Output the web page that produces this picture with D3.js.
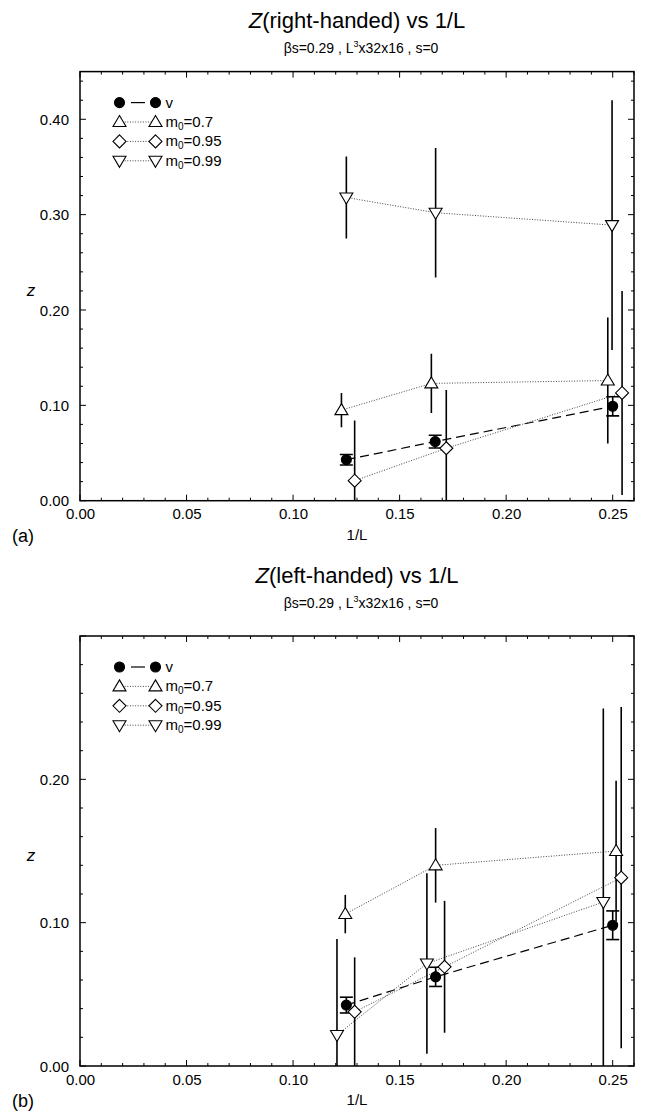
<!DOCTYPE html>
<html>
<head>
<meta charset="utf-8">
<script src="https://cdn.jsdelivr.net/npm/d3@7"></script>
<style>
  html, body { margin: 0; padding: 0; background: #fff; }
  svg { display: block; }
  text { font-family: "Liberation Sans", Arial, Helvetica, sans-serif; fill: #000; }
</style>
</head>
<body>
<svg id="chart" width="651" height="1115"></svg>
<script>
// ---- data: panel (a), right-handed ----
const vX_a    = [0.125, 0.1667, 0.25];
const vY_a    = [0.043, 0.062, 0.099];
const vErr_a  = [0.0055, 0.0067, 0.010];
const m07X_a  = [0.1227, 0.1649, 0.2477];
const m07Y_a  = [0.095, 0.123, 0.126];
const m07Err_a = [0.018, 0.031, 0.066];
const m095X_a = [0.1289, 0.1719, 0.2544];
const m095Y_a = [0.021, 0.055, 0.113];
const m095Err_a = [0.063, 0.061, 0.107];
const m099X_a = [0.125, 0.1669, 0.2497];
const m099Y_a = [0.318, 0.302, 0.289];
const m099Err_a = [0.043, 0.068, 0.131];

// ---- data: panel (b), left-handed ----
const vX_b    = [0.125, 0.1669, 0.25];
const vY_b    = [0.0425, 0.0622, 0.0982];
const vErr_b  = [0.0055, 0.0067, 0.010];
const m07X_b  = [0.1245, 0.1669, 0.2516];
const m07Y_b  = [0.106, 0.140, 0.150];
const m07Err_b = [0.0134, 0.026, 0.049];
const m095X_b = [0.1289, 0.1711, 0.254];
const m095Y_b = [0.0378, 0.0692, 0.1314];
const m095Err_b = [0.038, 0.046, 0.119];
const m099X_b = [0.1206, 0.1628, 0.2456];
const m099Y_b = [0.0216, 0.0715, 0.1144];
const m099Err_b = [0.067, 0.063, 0.135];

// ---- axes ----
const xDomain = [0, 0.26];
const xTickLabels = [0.00, 0.05, 0.10, 0.15, 0.20, 0.25];
const yDomain_a = [0, 0.45];
const yTickLabels_a = [0.00, 0.10, 0.20, 0.30, 0.40];
const yDomain_b = [0, 0.30];
const yTickLabels_b = [0.00, 0.10, 0.20];

const seriesNames = ["v", "m0=0.7", "m0=0.95", "m0=0.99"];

const svg = d3.select("#chart");

const seriesStyle = {
  "v":       { symbol: "circle",   dash: "9,5",  fill: "#000", caps: true },
  "m0=0.7":  { symbol: "up",       dash: "1,1.6", fill: "#fff", caps: false },
  "m0=0.95": { symbol: "diamond",  dash: "1,1.6", fill: "#fff", caps: false },
  "m0=0.99": { symbol: "down",     dash: "1,1.6", fill: "#fff", caps: false }
};

function symbolPath(kind) {
  switch (kind) {
    case "circle":  return "M5,0A5,5,0,1,1,-5,0A5,5,0,1,1,5,0Z";
    case "up":      return "M0,-6.5L6.5,4.5L-6.5,4.5Z";
    case "down":    return "M0,6.5L6.5,-4.5L-6.5,-4.5Z";
    case "diamond": return "M0,-6.5L6.5,0L0,6.5L-6.5,0Z";
  }
}

function drawMarker(g, kind, x, y, fill) {
  g.append("path")
    .attr("d", symbolPath(kind))
    .attr("transform", `translate(${x},${y})`)
    .attr("fill", fill)
    .attr("stroke", "#000")
    .attr("stroke-width", 1.1);
}

function drawPanel(cfg) {
  const { top, bottom, left, right, yDomain, yTicks, title, letter, series, id, titleY, subY } = cfg;
  const x = d3.scaleLinear().domain(xDomain).range([left, right]);
  const y = d3.scaleLinear().domain(yDomain).range([bottom, top]);
  const g = svg.append("g");

  // titles
  const cx = 357;
  const t = g.append("text").attr("x", cx).attr("y", titleY)
    .attr("text-anchor", "middle").style("font-size", "22px");
  t.append("tspan").style("font-style", "italic").text("Z");
  t.append("tspan").text(title);

  const st = g.append("text").attr("x", cx + 4).attr("y", subY)
    .attr("text-anchor", "middle").style("font-size", "14px");
  st.append("tspan").text("βs=0.29 , L");
  st.append("tspan").attr("dy", -6).style("font-size", "9px").text("3");
  st.append("tspan").attr("dy", 6).text("x32x16 , s=0");

  // frame
  g.append("rect").attr("x", left).attr("y", top)
    .attr("width", right - left).attr("height", bottom - top)
    .attr("fill", "none").attr("stroke", "#000").attr("stroke-width", 1.5);

  // inward ticks, all four sides
  const xMinor = d3.range(0, 0.2601, 0.01);
  xMinor.forEach((v, i) => {
    const major = i % 5 === 0;
    const len = major ? 6 : 3;
    const px = x(v);
    g.append("line").attr("x1", px).attr("x2", px).attr("y1", bottom).attr("y2", bottom - len)
      .attr("stroke", "#000").attr("stroke-width", 1);
    g.append("line").attr("x1", px).attr("x2", px).attr("y1", top).attr("y2", top + len)
      .attr("stroke", "#000").attr("stroke-width", 1);
  });
  const yMinor = d3.range(0, yDomain[1] + 0.0001, 0.02);
  yMinor.forEach((v, i) => {
    const major = i % 5 === 0;
    const len = major ? 6 : 3;
    const py = y(v);
    g.append("line").attr("x1", left).attr("x2", left + len).attr("y1", py).attr("y2", py)
      .attr("stroke", "#000").attr("stroke-width", 1);
    g.append("line").attr("x1", right).attr("x2", right - len).attr("y1", py).attr("y2", py)
      .attr("stroke", "#000").attr("stroke-width", 1);
  });

  // tick labels
  const xAxis = d3.axisBottom(x).tickValues(xTickLabels).tickFormat(d3.format(".2f")).tickSize(0).tickPadding(0);
  const xa = g.append("g").attr("transform", `translate(0,${bottom})`).call(xAxis);
  xa.select(".domain").remove();
  xa.selectAll("text").attr("y", 18.5).attr("dy", 0).style("font-size", "15px").style("font-family", "Liberation Sans, Arial, sans-serif");

  const yAxis = d3.axisLeft(y).tickValues(yTicks).tickFormat(d3.format(".2f")).tickSize(0).tickPadding(0);
  const ya = g.append("g").attr("transform", `translate(${left - 11},0)`).call(yAxis);
  ya.select(".domain").remove();
  ya.selectAll("text").attr("dy", "0.35em").style("font-size", "15px").style("font-family", "Liberation Sans, Arial, sans-serif");

  // axis titles
  g.append("text").attr("x", 357).attr("y", bottom + 39).attr("text-anchor", "middle")
    .style("font-size", "15px").text("1/L");
  g.append("text").attr("x", 31).attr("y", (top + bottom) / 2 + 10).attr("text-anchor", "middle")
    .style("font-size", "17px").style("font-style", "italic").text("z");
  g.append("text").attr("x", 12).attr("y", bottom + 41)
    .style("font-size", "18px").text(letter);

  // data clipped to frame
  g.append("clipPath").attr("id", id).append("rect")
    .attr("x", left).attr("y", top).attr("width", right - left).attr("height", bottom - top);
  const data = g.append("g").attr("clip-path", `url(#${id})`);

  const line = d3.line().x(d => x(d[0])).y(d => y(d[1]));
  // connecting lines
  series.forEach(s => {
    const st = seriesStyle[s.name];
    const pts = s.x.map((xv, i) => [xv, s.y[i]]);
    data.append("path").attr("d", line(pts)).attr("fill", "none")
      .attr("stroke", s.name === "v" ? "#000" : "#444")
      .attr("stroke-width", s.name === "v" ? 1.2 : 1)
      .attr("stroke-dasharray", st.dash);
  });
  // error bars
  series.forEach(s => {
    const st = seriesStyle[s.name];
    s.x.forEach((xv, i) => {
      const px = x(xv);
      const y1 = y(s.y[i] + s.err[i]), y2 = y(s.y[i] - s.err[i]);
      data.append("line").attr("x1", px).attr("x2", px).attr("y1", y1).attr("y2", y2)
        .attr("stroke", "#000").attr("stroke-width", 1.6);
      if (st.caps) {
        [y1, y2].forEach(yy => data.append("line").attr("x1", px - 6.5).attr("x2", px + 6.5)
          .attr("y1", yy).attr("y2", yy).attr("stroke", "#000").attr("stroke-width", 1.6));
      }
    });
  });
  // markers
  series.forEach(s => {
    const st = seriesStyle[s.name];
    s.x.forEach((xv, i) => drawMarker(data, st.symbol, x(xv), y(s.y[i]), st.fill));
  });

  // legend
  const lx1 = 119.5, lx2 = 155.5, ly0 = top + 31, dy = 19.4;
  seriesNames.forEach((name, i) => {
    const st = seriesStyle[name];
    const ly = ly0 + i * dy;
    if (name === "v") {
      g.append("line").attr("x1", 131).attr("x2", 145).attr("y1", ly).attr("y2", ly)
        .attr("stroke", "#000").attr("stroke-width", 1.2);
    } else {
      g.append("line").attr("x1", lx1).attr("x2", lx2).attr("y1", ly).attr("y2", ly)
        .attr("stroke", "#444").attr("stroke-width", 1).attr("stroke-dasharray", st.dash);
    }
    drawMarker(g, st.symbol, lx1, ly, st.fill);
    drawMarker(g, st.symbol, lx2, ly, st.fill);
    const tx = g.append("text").attr("x", 165.5).attr("y", ly + 5).style("font-size", "15px");
    if (name === "v") {
      tx.text("v");
    } else {
      tx.append("tspan").text("m");
      tx.append("tspan").attr("dy", 3).style("font-size", "10px").text("0");
      tx.append("tspan").attr("dy", -3).text(name.slice(2));
    }
  });
}

drawPanel({
  id: "clipA", top: 71.6, bottom: 500.7, left: 80, right: 634, titleY: 28, subY: 53,
  yDomain: yDomain_a, yTicks: yTickLabels_a, title: "(right-handed) vs  1/L", letter: "(a)",
  series: [
    { name: "v",       x: vX_a,    y: vY_a,    err: vErr_a },
    { name: "m0=0.7",  x: m07X_a,  y: m07Y_a,  err: m07Err_a },
    { name: "m0=0.95", x: m095X_a, y: m095Y_a, err: m095Err_a },
    { name: "m0=0.99", x: m099X_a, y: m099Y_a, err: m099Err_a }
  ]
});

drawPanel({
  id: "clipB", top: 636, bottom: 1066, left: 80, right: 634, titleY: 583, subY: 608,
  yDomain: yDomain_b, yTicks: yTickLabels_b, title: "(left-handed) vs  1/L", letter: "(b)",
  series: [
    { name: "v",       x: vX_b,    y: vY_b,    err: vErr_b },
    { name: "m0=0.7",  x: m07X_b,  y: m07Y_b,  err: m07Err_b },
    { name: "m0=0.95", x: m095X_b, y: m095Y_b, err: m095Err_b },
    { name: "m0=0.99", x: m099X_b, y: m099Y_b, err: m099Err_b }
  ]
});
</script>
</body>
</html>
